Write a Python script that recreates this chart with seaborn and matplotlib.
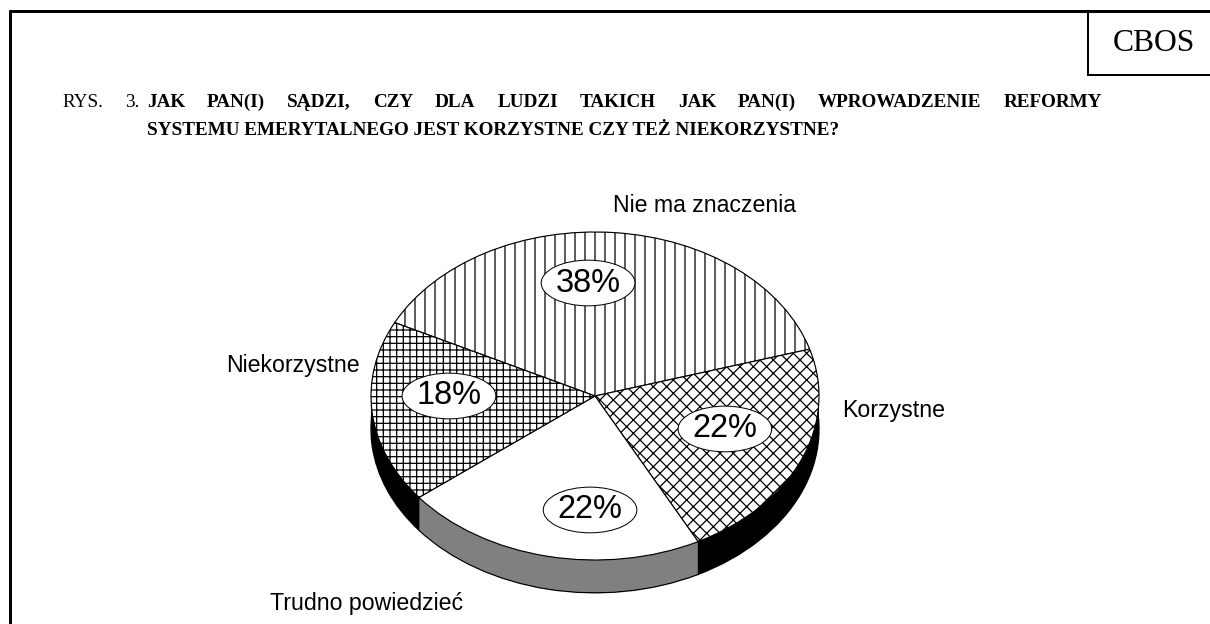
import matplotlib
matplotlib.use("Agg")
import matplotlib.pyplot as plt
from matplotlib.lines import Line2D
import numpy as np
import seaborn as sns

# data
categories = ["Nie ma znaczenia", "Korzystne", "Trudno powiedzieć", "Niekorzystne"]
shares = [38, 22, 22, 18]
hatches = ["||", "xxx", "", "+++"]
side_colors = ["black", "black", "#808080", "black"]

title_prefix = ["RYS.", "3."]
title_line1 = "JAK PAN(I) SĄDZI, CZY DLA LUDZI TAKICH JAK PAN(I) WPROWADZENIE REFORMY"
title_line2 = "SYSTEMU EMERYTALNEGO JEST KORZYSTNE CZY TEŻ NIEKORZYSTNE?"

W, H, DPI = 1210, 624, 120

sns.set_theme(style="white")
plt.rcParams["font.family"] = ["Liberation Sans", "DejaVu Sans"]
plt.rcParams["text.color"] = "black"
plt.rcParams["hatch.linewidth"] = 0.75
plt.rcParams["hatch.color"] = "black"


def fx(x):
    return x / W


def fy(y):
    return 1 - y / H


fig = plt.figure(figsize=(W / DPI, H / DPI), dpi=DPI)
fig.patch.set_facecolor("white")

# pie axes: horizontal radius 224px, vertical radius 164px
ax = fig.add_axes([fx(315), fy(601), 560 / W, 410 / H])

start = 153.4
depth = 0.2

# side of the "3D" pie: stacked layers
for k, off in enumerate(np.linspace(depth, 0, 40)):
    wedges, _ = ax.pie(shares, startangle=start, counterclock=False,
                       center=(0, -off), colors=side_colors)
    for w in wedges:
        if k == 0:
            w.set_edgecolor("black")
            w.set_linewidth(0.8)
        else:
            w.set_linewidth(0)

# top face
wedges, texts, autotexts = ax.pie(
    shares, startangle=start, counterclock=False, colors=["white"] * 4,
    autopct="%.0f%%", pctdistance=0.66,
    wedgeprops=dict(edgecolor="black", linewidth=0.7),
    textprops=dict(fontsize=19.5, color="black"))
for w, h in zip(wedges, hatches):
    w.set_hatch(h)
pct_pos = [(-0.031, 0.689), (0.580, -0.201), (-0.022, -0.695), (-0.652, 0.0)]
for t, p in zip(autotexts, pct_pos):
    t.set_position(p)
    t.set_bbox(dict(boxstyle="ellipse,pad=0.02", fc="white", ec="black", lw=0.6))

ax.set_aspect("auto")
ax.set_xlim(-1.25, 1.25)
ax.set_ylim(-1.25, 1.25)
ax.axis("off")

# category labels
label_pos = [(705, 212), (894, 417), (367, 610), (293, 372)]
for name, (x, y) in zip(categories, label_pos):
    fig.text(fx(x), fy(y), name, ha="center", va="baseline", fontsize=13.9)

# frame and CBOS box
fig.add_artist(Line2D([fx(10), fx(1210)], [fy(11), fy(11)], color="black", lw=1.8))
fig.add_artist(Line2D([fx(10), fx(10)], [fy(11), fy(624)], color="black", lw=1.8))
fig.add_artist(Line2D([fx(1088), fx(1088)], [fy(11), fy(75)], color="black", lw=1.2))
fig.add_artist(Line2D([fx(1088), fx(1210)], [fy(75), fy(75)], color="black", lw=1.2))
fig.text(fx(1154), fy(51), "CBOS", ha="center", va="baseline",
         fontsize=19, family="Liberation Serif")

# title, first line justified between x=147 and x=1102
renderer = fig.canvas.get_renderer()
tkw = dict(va="baseline", fontsize=11.5, family="Liberation Serif")
words = title_line1.split(" ")
arts = [fig.text(0, fy(107), w, ha="left", fontweight="bold", **tkw) for w in words]
widths = [a.get_window_extent(renderer).width for a in arts]
gap = (1102 - 147 - sum(widths)) / (len(words) - 1)
x = 147
for a, w in zip(arts, widths):
    a.set_x(fx(x))
    x += w + gap
pre = [fig.text(0, fy(107), w, ha="left", **tkw) for w in title_prefix]
pw = pre[0].get_window_extent(renderer).width
pre[0].set_x(fx(62))
pre[1].set_x(fx(62 + pw + gap))

fig.text(fx(147), fy(135), title_line2, ha="left", fontweight="bold", **tkw)

fig.savefig("out.png", dpi=DPI, facecolor="white")
